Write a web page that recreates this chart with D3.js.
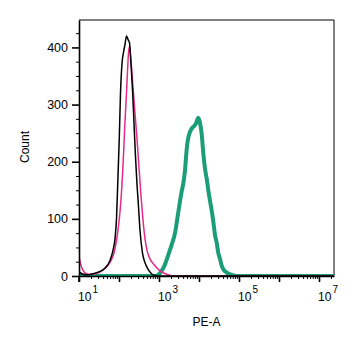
<!DOCTYPE html>
<html>
<head>
<meta charset="utf-8">
<script src="https://cdn.jsdelivr.net/npm/d3@7"></script>
<style>
  body { margin: 0; background: #fff; }
  svg text { font-family: "Liberation Sans", Arial, sans-serif; fill: #000; }
</style>
</head>
<body>
<svg id="chart" width="355" height="348"></svg>
<script>
// --- data (PE-A intensity, event count) ---
const blackX = [10, 11.9, 15.8, 22.4, 33.5, 44.7, 59.6, 70.8, 79.4, 86.6, 94.4, 102, 109, 119, 130, 141, 154, 168, 183, 200, 218, 237, 258, 282, 307, 335, 387, 447, 531, 649, 794, 1060, 2.3e7];
const blackY = [7, 4, 2, 4, 8, 14, 27, 45, 65, 100, 175, 245, 320, 372, 392, 405, 420, 414, 408, 370, 325, 268, 210, 160, 122, 80, 40, 23, 12, 4, 1, 0, 0];

const pinkX = [10, 10.9, 12.6, 15.4, 18.8, 25.1, 33.5, 44.7, 59.6, 75, 89.1, 100, 110, 124, 133, 141, 154, 163, 173, 183, 200, 224, 251, 282, 316, 355, 398, 447, 501, 596, 794, 1060, 1560, 2240, 2.3e7];
const pinkY = [35, 22, 10, 4, 3, 4, 7, 13, 24, 40, 68, 95, 126, 184, 230, 270, 320, 358, 390, 402, 375, 330, 285, 240, 190, 140, 98, 65, 45, 30, 18, 9, 3, 0, 0];

const tealX = [10, 800, 1060, 1410, 1710, 2080, 2510, 3040, 3690, 4050, 4470, 4930, 5400, 5960, 6570, 7500, 8410, 9600, 10600, 11700, 12800, 14100, 15600, 17100, 18800, 20800, 22800, 25100, 27700, 30400, 33500, 36900, 40500, 49300, 65700, 87600, 2.3e7];
const tealY = [0, 0, 5, 20, 37, 55, 75, 112, 148, 162, 185, 222, 242, 252, 258, 262, 267, 277, 268, 248, 215, 188, 170, 150, 132, 114, 95, 72, 58, 40, 30, 18, 12, 6, 2, 0, 0];

const yTicks = [0, 100, 200, 300, 400];
const xLabelExps = [1, 3, 5, 7];

// --- layout ---
const width = 355, height = 348;
const margin = { top: 20, right: 21, bottom: 72, left: 79 };
const w = width - margin.left - margin.right;
const h = height - margin.top - margin.bottom;

const svg = d3.select("#chart");
const g = svg.append("g").attr("transform", `translate(${margin.left},${margin.top})`);

const x = d3.scaleLog().domain([10, Math.pow(10, 7.375)]).range([0, w]);
const y = d3.scaleLinear().domain([0, 448]).range([h, 0]);

// frame (top + right)
g.append("path")
  .attr("d", `M0,0H${w}V${h}`)
  .attr("fill", "none")
  .attr("stroke", "#000")
  .attr("stroke-width", 1);

// --- curves ---
const line = d3.line()
  .x(d => x(d[0]))
  .y(d => y(d[1]))
  .curve(d3.curveMonotoneX);

const series = [
  { xs: tealX, ys: tealY, color: "#1b9e77", sw: 4 },
  { xs: pinkX, ys: pinkY, color: "#e7298a", sw: 1.5 },
  { xs: blackX, ys: blackY, color: "#000000", sw: 1.5 }
];
const clip = svg.append("defs").append("clipPath").attr("id", "plotclip")
  .append("rect").attr("x", 0).attr("y", -5).attr("width", w).attr("height", h + 5);

series.forEach(s => {
  g.append("path")
    .datum(s.xs.map((v, i) => [v, s.ys[i]]))
    .attr("clip-path", "url(#plotclip)")
    .attr("fill", "none")
    .attr("stroke", s.color)
    .attr("stroke-width", s.sw)
    .attr("stroke-linejoin", "round")
    .attr("d", line);
});

// --- Y axis ---
const yMinor = d3.range(0, 448, 25).filter(v => v % 100 !== 0);
g.append("g")
  .call(d3.axisLeft(y).tickValues(yMinor).tickSize(3).tickFormat(""))
  .call(a => a.select(".domain").remove())
  .selectAll("line").attr("stroke-width", 1);

const yAxis = g.append("g")
  .call(d3.axisLeft(y).tickValues(yTicks).tickSize(7).tickPadding(4).tickSizeOuter(0));
yAxis.select(".domain").attr("stroke-width", 1.6);
yAxis.selectAll("line").attr("stroke-width", 1.6);
yAxis.selectAll("text").style("font-size", "12.5px")
  .style("font-family", "'Liberation Sans', Arial, sans-serif");

// extend y axis line below the x axis
g.append("line")
  .attr("x1", 0).attr("x2", 0).attr("y1", h).attr("y2", h + 6)
  .attr("stroke", "#000").attr("stroke-width", 1.6);

// --- X axis (log decades) ---
const decades = d3.range(1, 8).map(e => Math.pow(10, e));
const minors = [];
decades.forEach(d => { for (let k = 2; k <= 9; k++) if (d * k <= x.domain()[1]) minors.push(d * k); });

g.append("g")
  .attr("transform", `translate(0,${h})`)
  .call(d3.axisBottom(x).tickValues(minors).tickSize(3).tickFormat(""))
  .call(a => a.select(".domain").remove());

const xAxis = g.append("g")
  .attr("transform", `translate(0,${h})`)
  .call(d3.axisBottom(x).tickValues(decades).tickSize(6).tickFormat("").tickSizeOuter(0));
xAxis.select(".domain").attr("stroke-width", 1.6);
xAxis.selectAll("line").attr("stroke-width", 1.6);

// decade labels 10^n
const lbl = g.append("g").selectAll("text")
  .data(xLabelExps)
  .join("text")
  .attr("x", e => x(Math.pow(10, e)) + 9)
  .attr("y", h + 25)
  .attr("text-anchor", "middle")
  .style("font-size", "12px");
lbl.append("tspan").text("10");
lbl.append("tspan").attr("dy", -8).attr("dx", 1).style("font-size", "10px").text(e => e);

// --- axis titles ---
g.append("text")
  .attr("x", w / 2)
  .attr("y", h + 50)
  .attr("text-anchor", "middle")
  .style("font-size", "12px")
  .text("PE-A");

g.append("text")
  .attr("transform", `translate(${25 - margin.left},${147 - margin.top}) rotate(-90)`)
  .attr("text-anchor", "middle")
  .attr("dy", "0.35em")
  .style("font-size", "12px")
  .text("Count");
</script>
</body>
</html>
